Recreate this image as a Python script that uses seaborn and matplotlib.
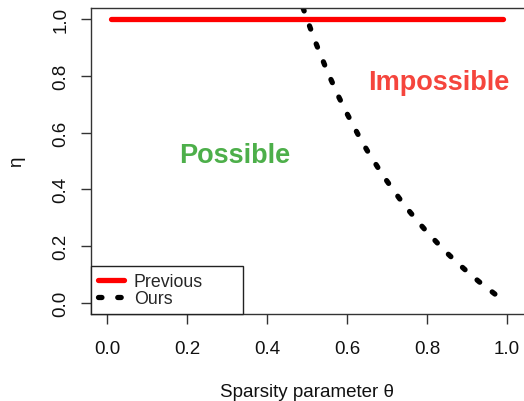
import matplotlib
matplotlib.use("Agg")
import matplotlib.pyplot as plt
import seaborn as sns
import pandas as pd

# Data
prev_theta = [0.01, 0.99]
prev_eta = [1.0, 1.0]

ours_theta = [0.49, 0.50, 0.52, 0.55, 0.58, 0.60, 0.63, 0.65, 0.68, 0.70, 0.73, 0.75,
              0.78, 0.80, 0.83, 0.85, 0.88, 0.90, 0.93, 0.95, 0.97]
ours_eta = [1.04, 1.00, 0.923, 0.818, 0.724, 0.667, 0.587, 0.538, 0.471, 0.429, 0.370, 0.333,
            0.282, 0.250, 0.205, 0.176, 0.136, 0.111, 0.075, 0.053, 0.031]

x_ticks = [0.0, 0.2, 0.4, 0.6, 0.8, 1.0]
y_ticks = [0.0, 0.2, 0.4, 0.6, 0.8, 1.0]
tick_labels = ["0.0", "0.2", "0.4", "0.6", "0.8", "1.0"]

sns.set_style("white")
plt.rcParams['font.family'] = ['Liberation Sans', 'DejaVu Sans']

fig = plt.figure(figsize=(5.24, 4.02), dpi=100)
W, H = 524, 402
x0, x1 = 91, 523
y_top, y_bot = 9, 315
ax = fig.add_axes([x0 / W, (H - y_bot) / H, (x1 - x0) / W, (y_bot - y_top) / H])

df_prev = pd.DataFrame({"theta": prev_theta, "eta": prev_eta})
df_ours = pd.DataFrame({"theta": ours_theta, "eta": ours_eta})

sns.lineplot(data=df_prev, x="theta", y="eta", ax=ax, color="#FF0000", linewidth=3.8,
             solid_capstyle="round", label="Previous", sort=False)
sns.lineplot(data=df_ours, x="theta", y="eta", ax=ax, color="black", linewidth=3.8,
             label="Ours", sort=False)
ax.lines[1].set_dashes([0.65, 3.0])
ax.lines[1].set_dash_capstyle("round")

ax.set_xlim(-0.04, 1.04)
ax.set_ylim(-0.039, 1.039)

ax.set_xticks(x_ticks)
ax.set_xticklabels(tick_labels)
ax.set_yticks(y_ticks)
ax.set_yticklabels(tick_labels, rotation=90, va="center")

ax.tick_params(axis="both", which="major", direction="out", length=7.5, width=1,
               color="#333333", labelsize=13.5, labelcolor="#111111", bottom=True, left=True)
ax.tick_params(axis="x", pad=11)
ax.tick_params(axis="y", pad=8)

for s in ["left", "top", "bottom"]:
    ax.spines[s].set_visible(True)
    ax.spines[s].set_color("#333333")
    ax.spines[s].set_linewidth(1.0)
ax.spines["right"].set_visible(False)

ax.set_xlabel("Sparsity parameter θ", fontsize=13.5, color="#111111", labelpad=19)
ax.set_ylabel("η", fontsize=13.5, color="#111111", labelpad=20)

ax.text(0.32, 0.52, "Possible", color="#4DAF4A", fontsize=19.5, fontweight="bold",
        ha="center", va="center")
ax.text(0.83, 0.78, "Impossible", color="#F5453D", fontsize=19.5, fontweight="bold",
        ha="center", va="center")

leg_w = (243 - 91) / (x1 - x0)
leg_h = (315 - 267) / (y_bot - y_top)
leg = ax.legend(loc="lower left", bbox_to_anchor=(0, 0, leg_w, leg_h), mode="expand",
                borderaxespad=0, fontsize=12.8, frameon=True, fancybox=False,
                handlelength=1.45, labelspacing=0.0, handletextpad=0.55, borderpad=0.4)
leg.get_frame().set_edgecolor("#222222")
leg.get_frame().set_linewidth(1.0)
leg.get_frame().set_alpha(1)

fig.savefig("out.png", dpi=100)
